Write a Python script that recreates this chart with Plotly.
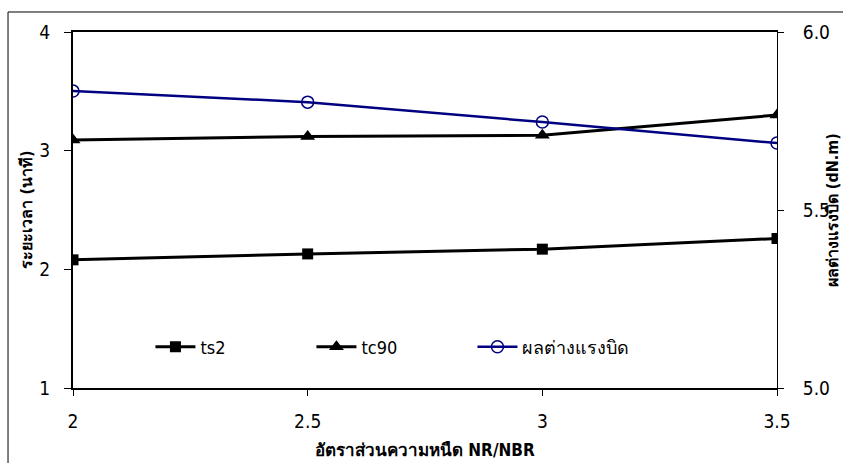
import plotly.graph_objects as go

ratio = [2, 2.5, 3, 3.5]
ts2 = [2.08, 2.13, 2.17, 2.26]
tc90 = [3.09, 3.12, 3.13, 3.30]
torque_diff = [5.834, 5.803, 5.747, 5.688]

x_ticks = [2, 2.5, 3, 3.5]
x_tick_text = ["2", "2.5", "3", "3.5"]
y_ticks = [1, 2, 3, 4]
y2_ticks = [5.0, 5.5, 6.0]
y2_tick_text = ["5.0", "5.5", "6.0"]

x_title = "อัตราส่วนความหนืด NR/NBR"
y_title = "ระยะเวลา (นาที)"
y2_title = "ผลต่างแรงบิด (dN.m)"

FONT = "Tahoma, DejaVu Sans Condensed, DejaVu Sans, sans-serif"

fig = go.Figure()
fig.add_trace(go.Scatter(x=ratio, y=ts2, name="ts2", mode="lines+markers",
                         line=dict(color="black", width=3),
                         marker=dict(symbol="square", size=11, color="black")))
fig.add_trace(go.Scatter(x=ratio, y=tc90, name="tc90", mode="lines+markers",
                         line=dict(color="black", width=3),
                         marker=dict(symbol="triangle-up", size=13, color="black")))
fig.add_trace(go.Scatter(x=ratio, y=torque_diff, name="ผลต่างแรงบิด", mode="lines+markers",
                         yaxis="y2",
                         line=dict(color="#000080", width=2.5),
                         marker=dict(symbol="circle-open", size=12, color="#000080",
                                     line=dict(width=1.5, color="#000080"))))

fig.update_layout(
    width=843, height=463,
    margin=dict(l=73, r=66, t=32, b=75),
    paper_bgcolor="white", plot_bgcolor="white",
    font=dict(family=FONT, size=19, color="black"),
    showlegend=True,
    legend=dict(orientation="h", x=0.11, y=0.115, xanchor="left", yanchor="middle",
                bgcolor="rgba(0,0,0,0)", font=dict(size=18),
                entrywidth=106, entrywidthmode="pixels", itemwidth=40),
    xaxis=dict(range=[2, 3.5], tickvals=x_ticks, ticktext=x_tick_text,
               showgrid=False, zeroline=False,
               showline=True, linecolor="black", linewidth=1.5, mirror=True,
               ticks="outside", ticklen=6, tickcolor="black", tickwidth=1,
               ticklabelstandoff=9),
    xaxis3=dict(range=[2, 3.5], tickvals=x_ticks, overlaying="x", anchor="y",
                showticklabels=False, showgrid=False, zeroline=False, showline=False,
                ticks="inside", ticklen=6, tickcolor="black", tickwidth=1),
    yaxis=dict(range=[1, 4], tickvals=y_ticks, showgrid=False, zeroline=False,
               showline=True, linecolor="black", linewidth=2,
               ticks="outside", ticklen=7, tickcolor="black", tickwidth=1,
               ticklabelstandoff=10),
    yaxis2=dict(range=[5, 6], tickvals=y2_ticks, ticktext=y2_tick_text,
                overlaying="y", side="right", anchor="x",
                showgrid=False, zeroline=False,
                showline=True, linecolor="black", linewidth=1,
                ticks="outside", ticklen=6, tickcolor="black", tickwidth=1,
                ticklabelstandoff=15),
    yaxis3=dict(range=[5, 6], tickvals=y2_ticks, overlaying="y", side="right", anchor="x",
                showticklabels=False, showgrid=False, zeroline=False, showline=False,
                ticks="inside", ticklen=6, tickcolor="black", tickwidth=1),
    annotations=[
        dict(text="<b>" + x_title + "</b>", xref="paper", yref="paper", x=0.5, y=-0.14,
             xanchor="center", yanchor="top", showarrow=False, font=dict(size=17)),
        dict(text="<b>" + y_title + "</b>", xref="paper", yref="paper", x=-0.051, y=0.5,
             xanchor="right", yanchor="middle", textangle=-90, showarrow=False, font=dict(size=16)),
        dict(text="<b>" + y2_title + "</b>", xref="paper", yref="paper", x=1.062, y=0.5,
             xanchor="left", yanchor="middle", textangle=-90, showarrow=False, font=dict(size=16)),
    ],
    shapes=[dict(type="rect", xref="paper", yref="paper",
                 x0=-0.0923, x1=1.2, y0=-0.3, y1=1.0562,
                 line=dict(color="black", width=1), fillcolor="rgba(0,0,0,0)", layer="below")],
)

fig.write_html("out.html", config={"displayModeBar": False},
               post_script="document.body.style.margin='0';document.body.style.padding='0';"
                           "window.dispatchEvent(new Event('resize'));")
